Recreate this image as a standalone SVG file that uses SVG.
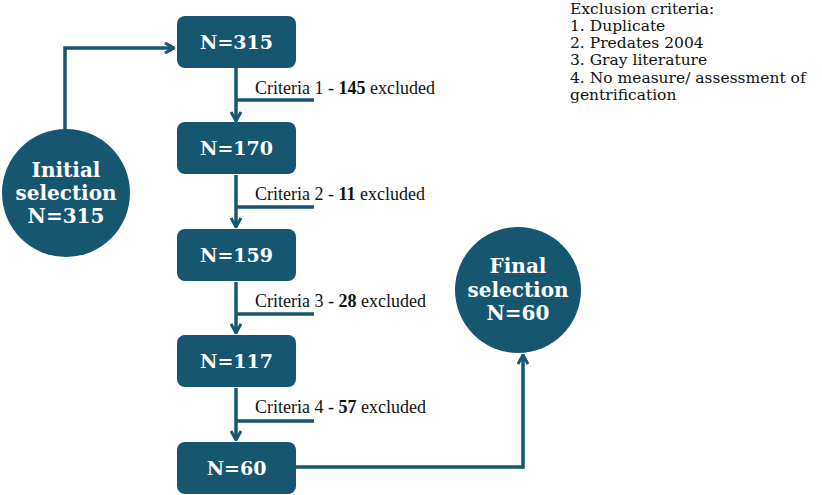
<svg xmlns="http://www.w3.org/2000/svg" width="822" height="495" viewBox="0 0 822 495">
<style>
.box{fill:#175670;}
.lbl{font-family:"DejaVu Serif","Liberation Serif",serif;font-weight:bold;fill:#ffffff;text-anchor:middle;}
.bx{font-size:19px;}
.cl{font-size:20px;}
.conn{fill:none;stroke:#175670;stroke-width:3.5;}
.crit{font-family:"Liberation Serif",serif;font-size:18px;fill:#111;}
.crit tspan.b{font-weight:bold;}
.leg{font-family:"DejaVu Serif","Liberation Serif",serif;font-size:15.5px;fill:#111;}
</style>
<defs>
<marker id="ah" viewBox="0 0 12 12" refX="11" refY="6" markerWidth="12" markerHeight="12" markerUnits="userSpaceOnUse" orient="auto">
<path d="M2,1 L11,6 L2,11" fill="none" stroke="#175670" stroke-width="3"/>
</marker>
</defs>
<rect width="822" height="495" fill="#ffffff"/>
<g id="connectors">
<path class="conn" d="M65,129 V48 H174" marker-end="url(#ah)"/>
<path class="conn" d="M236,68 V121" marker-end="url(#ah)"/>
<path class="conn" d="M236,100 H314"/>
<path class="conn" d="M236,175 V227" marker-end="url(#ah)"/>
<path class="conn" d="M236,207 H314"/>
<path class="conn" d="M236,282 V333" marker-end="url(#ah)"/>
<path class="conn" d="M236,314 H314"/>
<path class="conn" d="M236,388 V440" marker-end="url(#ah)"/>
<path class="conn" d="M236,421 H314"/>
<path class="conn" d="M296,467 H523 V355" marker-end="url(#ah)"/>
</g>
<g id="criteria-labels">
<text class="crit" x="255" y="94">Criteria 1 - <tspan class="b">145</tspan> excluded</text>
<text class="crit" x="255" y="200">Criteria 2 - <tspan class="b">11</tspan> excluded</text>
<text class="crit" x="255" y="307">Criteria 3 - <tspan class="b">28</tspan> excluded</text>
<text class="crit" x="255" y="413">Criteria 4 - <tspan class="b">57</tspan> excluded</text>
</g>
<g id="initial">
<circle class="box" cx="66" cy="193" r="64"/>
<text class="lbl cl" x="66" y="177">Initial</text>
<text class="lbl cl" x="66" y="200">selection</text>
<text class="lbl cl" x="66" y="223">N=315</text>
</g>
<g id="n315">
<rect class="box" x="177" y="16" width="119" height="52" rx="8"/>
<text class="lbl bx" x="236.5" y="49">N=315</text>
</g>
<g id="n170">
<rect class="box" x="177" y="122" width="119" height="52" rx="8"/>
<text class="lbl bx" x="236.5" y="155">N=170</text>
</g>
<g id="n159">
<rect class="box" x="177" y="229" width="119" height="52" rx="8"/>
<text class="lbl bx" x="236.5" y="262">N=159</text>
</g>
<g id="n117">
<rect class="box" x="177" y="335" width="119" height="52" rx="8"/>
<text class="lbl bx" x="236.5" y="368">N=117</text>
</g>
<g id="n60">
<rect class="box" x="177" y="442" width="119" height="52" rx="8"/>
<text class="lbl bx" x="236.5" y="475">N=60</text>
</g>
<g id="final">
<circle class="box" cx="518" cy="290" r="63"/>
<text class="lbl cl" x="518" y="273">Final</text>
<text class="lbl cl" x="518" y="297">selection</text>
<text class="lbl cl" x="518" y="320">N=60</text>
</g>
<g id="legend">
<text class="leg" x="570" y="14">Exclusion criteria:</text>
<text class="leg" x="570" y="31">1. Duplicate</text>
<text class="leg" x="570" y="48">2. Predates 2004</text>
<text class="leg" x="570" y="65">3. Gray literature</text>
<text class="leg" x="570" y="83">4. No measure/ assessment of</text>
<text class="leg" x="570" y="100">gentrification</text>
</g>
</svg>
